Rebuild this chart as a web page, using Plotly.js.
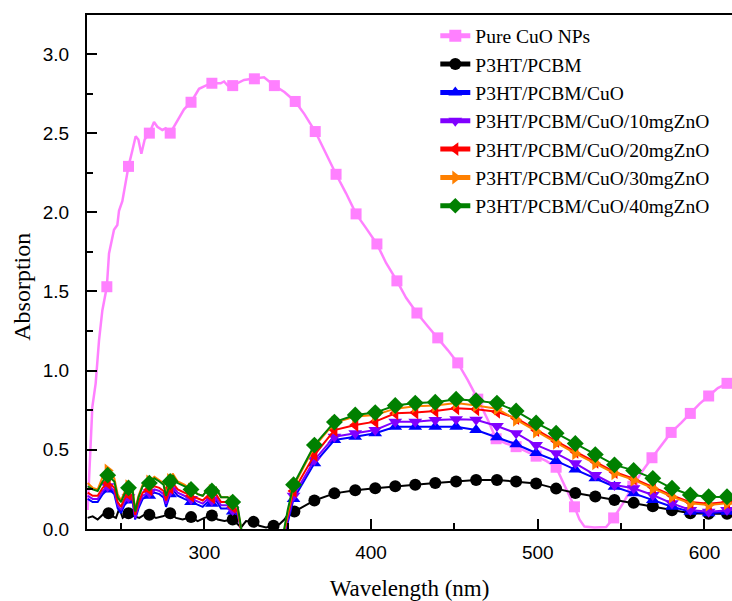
<!DOCTYPE html>
<html><head><meta charset="utf-8">
<script src="https://cdn.plot.ly/plotly-3.0.1.min.js"></script>
<style>html,body{margin:0;padding:0;background:#fff}#chart{width:732px;height:601px}</style>
</head><body><div id="chart"></div>
<script>
// ---------- DATA ----------
const seriesNames = ["Pure CuO NPs", "P3HT/PCBM", "P3HT/PCBM/CuO", "P3HT/PCBM/CuO/10mgZnO",
  "P3HT/PCBM/CuO/20mgZnO", "P3HT/PCBM/CuO/30mgZnO", "P3HT/PCBM/CuO/40mgZnO"];
const xTitle = "Wavelength (nm)";
const yTitle = "Absorption";

// Pure CuO NPs
const cuoWl = [230, 231.5, 232.8, 234.8, 236.8, 238.8, 241.5, 242.8, 245.8, 247.8, 248.8, 250.8, 252.8, 254.5, 256.8, 258.8, 260.4, 262.2, 264.2, 267, 269.8, 271.8, 274.8, 276.8, 279.5, 283.8, 287.8, 292, 296.8, 300.8, 304.5, 309.8, 311.8, 314, 317, 323.8, 330, 335.8, 342, 348, 354.5, 360, 366.5, 372, 379, 385, 391, 397, 403.5, 409, 415.5, 421, 427.5, 434, 440, 446, 452, 458, 464, 470, 475, 481, 487, 493, 499, 505, 511, 516, 522, 525, 528, 534, 541, 545.5, 551, 557, 563, 568.5, 574, 580, 586, 591.5, 597, 602.5, 608, 613.5, 617];
const cuoAbs = [0.12, 0.45, 0.77, 0.92, 1.19, 1.38, 1.53, 1.74, 1.89, 1.92, 2.01, 2.07, 2.20, 2.29, 2.39, 2.48, 2.46, 2.37, 2.46, 2.50, 2.57, 2.54, 2.52, 2.53, 2.50, 2.58, 2.65, 2.695, 2.78, 2.80, 2.815, 2.815, 2.826, 2.80, 2.80, 2.836, 2.843, 2.853, 2.80, 2.76, 2.70, 2.62, 2.51, 2.39, 2.24, 2.12, 1.99, 1.90, 1.80, 1.68, 1.567, 1.46, 1.364, 1.28, 1.207, 1.13, 1.049, 0.94, 0.82, 0.69, 0.57, 0.54, 0.52, 0.49, 0.46, 0.43, 0.39, 0.28, 0.14, 0.06, 0.015, 0.01, 0.012, 0.07, 0.16, 0.27, 0.37, 0.45, 0.53, 0.61, 0.67, 0.73, 0.79, 0.84, 0.89, 0.92, 0.93];
const cuoMarks = [241.5, 254.5, 267, 279.5, 292, 304.5, 317, 330, 342, 354.5, 366.5, 379, 391, 403.5, 415.5, 427.5, 440, 452, 464, 475, 487, 499, 511, 522, 545.5, 557, 568.5, 580, 591.5, 602.5, 613.5];

// P3HT/PCBM
const p3Wl = [230, 233, 236, 239, 242.5, 245, 247, 249, 251, 254.5, 258, 261, 264, 267, 271, 275, 279.5, 283, 287, 292, 296, 300, 304.5, 308, 312, 317, 320, 322, 325, 329.5, 333, 337, 341.5, 345, 348, 350, 354, 366, 378, 390.5, 402.5, 414.5, 426.5, 438.5, 451, 463, 475.5, 487, 499, 511, 522.5, 534.5, 546, 557.5, 569, 580.5, 591.5, 602.5, 613.5, 617];
const p3Abs = [0.07, 0.08, 0.06, 0.09, 0.10, 0.08, 0.07, 0.13, 0.07, 0.10, 0.08, 0.07, 0.09, 0.09, 0.07, 0.08, 0.10, 0.07, 0.06, 0.075, 0.05, 0.07, 0.085, 0.06, 0.05, 0.06, 0.03, 0.01, 0.05, 0.045, 0.02, 0.01, 0.02, 0.03, 0.06, 0.09, 0.11, 0.18, 0.225, 0.245, 0.257, 0.27, 0.28, 0.29, 0.30, 0.31, 0.31, 0.30, 0.288, 0.255, 0.228, 0.205, 0.183, 0.165, 0.143, 0.118, 0.10, 0.097, 0.097, 0.097];
const p3Marks = [242.5, 254.5, 267, 279.5, 292, 304.5, 317, 329.5, 341.5, 354, 366, 378, 390.5, 402.5, 414.5, 426.5, 438.5, 451, 463, 475.5, 487, 499, 511, 522.5, 534.5, 546, 557.5, 569, 580.5, 591.5, 602.5, 613.5];

// composite films share one wavelength grid
const compWl = [230, 233, 236, 239, 242, 244, 246, 248, 250, 252, 254.5, 257, 258.5, 260.5, 263, 267, 270, 273, 275.5, 277, 279.5, 281, 284, 288, 292, 296, 299, 302, 304.5, 307, 310, 314, 317, 320, 322, 324, 335, 347, 350, 353.5, 366, 378, 390.5, 402.5, 414.5, 426.5, 438.5, 451, 463, 475.5, 487, 499, 511, 522.5, 534.5, 546, 557.5, 569, 580.5, 591.5, 602.5, 613.5, 617];
const compMarks = [242, 254.5, 267, 279.5, 292, 304.5, 317, 353.5, 366, 378, 390.5, 402.5, 414.5, 426.5, 438.5, 451, 463, 475.5, 487, 499, 511, 522.5, 534.5, 546, 557.5, 569, 580.5, 591.5, 602.5, 613.5];

const cuoFilmAbs = [0.19, 0.17, 0.17, 0.22, 0.25, 0.24, 0.22, 0.13, 0.10, 0.15, 0.18, 0.17, 0.06, 0.13, 0.19, 0.21, 0.23, 0.22, 0.20, 0.14, 0.22, 0.25, 0.21, 0.19, 0.17, 0.15, 0.14, 0.17, 0.16, 0.18, 0.13, 0.13, 0.11, 0.09, 0.0, -0.1, -0.15, -0.08, 0.04, 0.19, 0.415, 0.562, 0.583, 0.605, 0.646, 0.646, 0.646, 0.646, 0.625, 0.58, 0.535, 0.48, 0.43, 0.375, 0.32, 0.267, 0.225, 0.183, 0.141, 0.109, 0.099, 0.109, 0.11];
const zno10Abs = [0.21, 0.19, 0.19, 0.24, 0.27, 0.26, 0.24, 0.15, 0.12, 0.17, 0.20, 0.19, 0.07, 0.15, 0.21, 0.23, 0.25, 0.24, 0.22, 0.16, 0.24, 0.27, 0.23, 0.21, 0.19, 0.17, 0.16, 0.19, 0.18, 0.20, 0.15, 0.15, 0.12, 0.10, 0.0, -0.1, -0.15, -0.07, 0.06, 0.21, 0.436, 0.583, 0.605, 0.625, 0.678, 0.678, 0.689, 0.693, 0.69, 0.65, 0.605, 0.531, 0.478, 0.415, 0.341, 0.278, 0.257, 0.215, 0.162, 0.12, 0.109, 0.12, 0.12];
const zno20Abs = [0.23, 0.21, 0.21, 0.26, 0.29, 0.28, 0.26, 0.17, 0.14, 0.19, 0.22, 0.21, 0.09, 0.17, 0.23, 0.25, 0.27, 0.26, 0.24, 0.18, 0.26, 0.29, 0.25, 0.23, 0.21, 0.19, 0.18, 0.21, 0.20, 0.22, 0.17, 0.17, 0.14, 0.11, 0.0, -0.1, -0.15, -0.06, 0.08, 0.24, 0.467, 0.625, 0.657, 0.678, 0.731, 0.735, 0.745, 0.762, 0.756, 0.74, 0.70, 0.625, 0.555, 0.488, 0.425, 0.36, 0.318, 0.265, 0.212, 0.17, 0.16, 0.17, 0.17];
const zno30Abs = [0.29, 0.26, 0.25, 0.33, 0.37, 0.35, 0.32, 0.22, 0.18, 0.23, 0.27, 0.25, 0.12, 0.21, 0.28, 0.30, 0.33, 0.31, 0.29, 0.22, 0.31, 0.35, 0.30, 0.28, 0.25, 0.22, 0.21, 0.25, 0.24, 0.26, 0.20, 0.20, 0.17, 0.13, 0.0, -0.1, -0.15, -0.06, 0.10, 0.27, 0.52, 0.67, 0.71, 0.72, 0.76, 0.775, 0.78, 0.795, 0.78, 0.76, 0.69, 0.615, 0.545, 0.478, 0.415, 0.352, 0.31, 0.257, 0.204, 0.162, 0.152, 0.162, 0.16];
const zno40Abs = [0.27, 0.25, 0.24, 0.30, 0.34, 0.32, 0.30, 0.20, 0.17, 0.22, 0.26, 0.24, 0.11, 0.20, 0.27, 0.29, 0.32, 0.30, 0.28, 0.21, 0.30, 0.34, 0.29, 0.27, 0.25, 0.22, 0.21, 0.25, 0.24, 0.26, 0.20, 0.20, 0.17, 0.14, 0.01, -0.1, -0.15, -0.05, 0.12, 0.28, 0.53, 0.675, 0.72, 0.735, 0.78, 0.795, 0.80, 0.82, 0.81, 0.795, 0.745, 0.67, 0.605, 0.54, 0.47, 0.405, 0.37, 0.32, 0.257, 0.215, 0.204, 0.204, 0.20];

// ---------- BUILD ----------
const specs = [
  {name: seriesNames[0], wl: cuoWl, abs: cuoAbs, marks: cuoMarks, color: '#FF80FF', symbol: 'square', size: 11, width: 2.5},
  {name: seriesNames[1], wl: p3Wl, abs: p3Abs, marks: p3Marks, color: '#000000', symbol: 'circle', size: 12, width: 2},
  {name: seriesNames[2], wl: compWl, abs: cuoFilmAbs, marks: compMarks, color: '#0000FF', symbol: 'triangle-up', size: 12, width: 2},
  {name: seriesNames[3], wl: compWl, abs: zno10Abs, marks: compMarks, color: '#8000FF', symbol: 'triangle-down', size: 12, width: 2},
  {name: seriesNames[4], wl: compWl, abs: zno20Abs, marks: compMarks, color: '#FF0000', symbol: 'triangle-left', size: 12, width: 2},
  {name: seriesNames[5], wl: compWl, abs: zno30Abs, marks: compMarks, color: '#FF8000', symbol: 'triangle-right', size: 12, width: 2},
  {name: seriesNames[6], wl: compWl, abs: zno40Abs, marks: compMarks, color: '#008000', symbol: 'diamond', size: 13, width: 2}
];

const traces = [];
specs.forEach(s => {
  traces.push({type: 'scatter', mode: 'lines', x: s.wl, y: s.abs, showlegend: false,
    line: {color: s.color, width: s.width}, hoverinfo: 'skip'});
  const mx = [], my = [];
  s.marks.forEach(m => {
    const i = s.wl.indexOf(m);
    if (i >= 0) { mx.push(s.wl[i], null); my.push(s.abs[i], null); }
  });
  traces.push({type: 'scatter', mode: 'lines+markers', x: mx, y: my, name: s.name,
    connectgaps: false, line: {color: s.color, width: s.width},
    marker: {symbol: s.symbol, size: s.size, color: s.color, line: {width: 0}}});
});

const serif = 'Liberation Serif, Times New Roman, serif';
const sans = 'Liberation Sans, Arial, sans-serif';
const layout = {
  width: 732, height: 601,
  margin: {l: 87, r: 0, t: 15, b: 72},
  paper_bgcolor: '#fff', plot_bgcolor: '#fff',
  showlegend: true,
  legend: {x: 0.54, y: 0.997, xanchor: 'left', yanchor: 'top', bgcolor: 'rgba(0,0,0,0)',
    font: {family: serif, size: 19.5, color: '#000'},
    itemsizing: 'constant', tracegroupgap: 0},
  xaxis: {
    range: [229.6, 616.5], dtick: 100, tick0: 0,
    ticks: 'inside', ticklen: 10, tickwidth: 2, tickcolor: '#000',
    minor: {dtick: 50, ticks: 'inside', ticklen: 6, tickwidth: 2, tickcolor: '#000'},
    showline: true, linecolor: '#000', linewidth: 2, mirror: true,
    showgrid: false, zeroline: false,
    tickfont: {family: sans, size: 19, color: '#000'},
    ticklabelstandoff: 5,
    title: {text: xTitle, font: {family: serif, size: 23, color: '#000'}, standoff: 18}
  },
  yaxis: {
    range: [0, 3.246], dtick: 0.5, tick0: 0, tickformat: '.1f',
    ticks: 'inside', ticklen: 10, tickwidth: 2, tickcolor: '#000',
    minor: {dtick: 0.25, ticks: 'inside', ticklen: 6, tickwidth: 2, tickcolor: '#000'},
    showline: true, linecolor: '#000', linewidth: 2, mirror: false,
    showgrid: false, zeroline: false,
    tickfont: {family: sans, size: 19, color: '#000'},
    ticklabelstandoff: 12
  },
  annotations: [{
    text: yTitle, textangle: -90, showarrow: false,
    xref: 'paper', yref: 'paper', x: -0.101, y: 0.471, xanchor: 'center', yanchor: 'middle',
    font: {family: serif, size: 24, color: '#000'}
  }]
};

Plotly.newPlot('chart', traces, layout, {displayModeBar: false, staticPlot: true});
</script>
</body></html>
